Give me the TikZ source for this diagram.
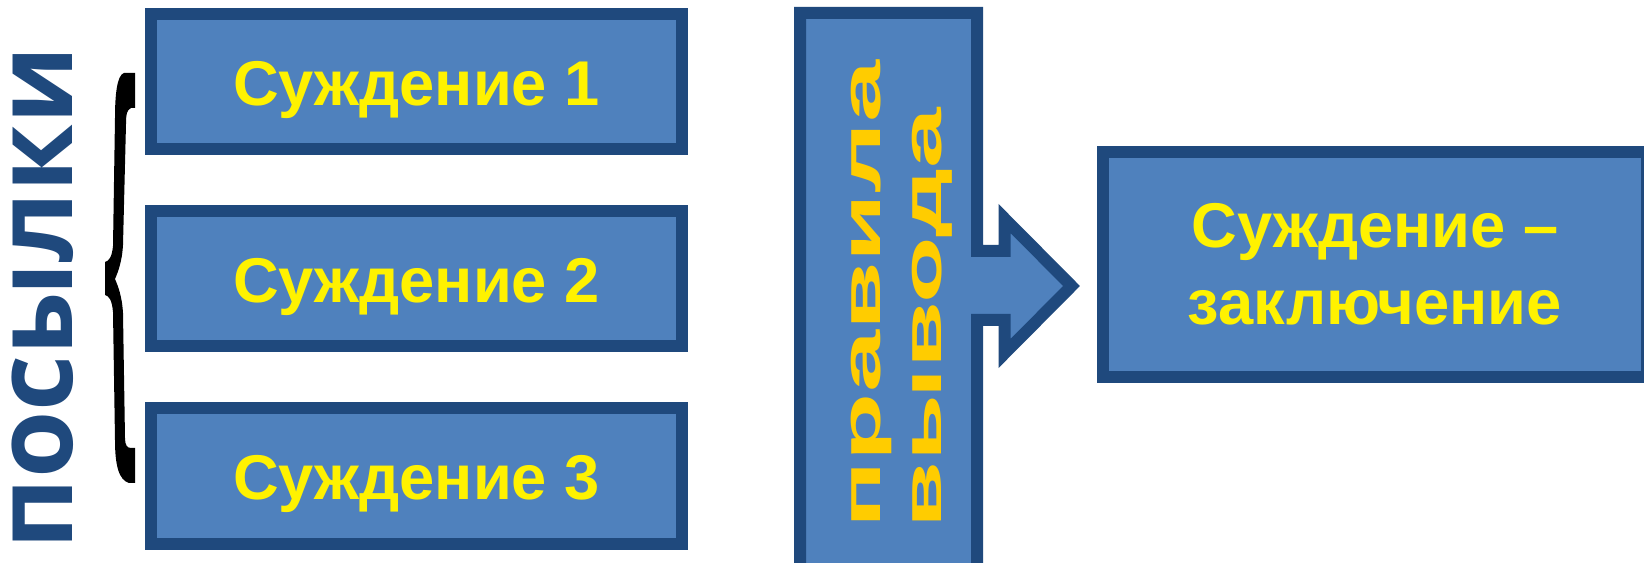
\documentclass[tikz,border=0pt]{standalone}
\usepackage{fontspec}
\setmainfont{Liberation Sans}
\newfontfamily\premisefont{Open Sans}
\usepackage{graphicx}
\definecolor{boxfill}{HTML}{4F81BD}
\definecolor{boxline}{HTML}{1F497D}
\definecolor{rulegold}{HTML}{FFCC00}
\begin{document}
\begin{tikzpicture}[x=0.02cm,y=-0.02cm,
  judgement/.style={draw=boxline,fill=boxfill,line width=0.24cm,minimum width=10.62cm,
    minimum height=2.72cm,inner sep=0pt,text=yellow,font=\fontsize{36}{44}\selectfont\bfseries},
  sidetext/.style={rotate=90,anchor=base west,inner sep=0pt}]
\useasboundingbox[fill=white] (0,0) rectangle (1644,563);
\foreach \i/\y in {1/81.5,2/278.5,3/476}
  \node[judgement,text height=27pt,text depth=0pt] (s\i) at (416.5,\y) {Суждение \i};
\node[judgement,align=center,minimum width=10.88cm,minimum height=4.52cm] (concl) at (1375,264.5) {Суждение –\\заключение};
\coordinate (tip) at (1071.5,286);
\draw[draw=boxline,fill=boxfill,line width=0.24cm] (800,13) -- (977,13) -- (977,251) -- (1004.5,251)
  -- (1004.5,218.5) -- (tip) -- (1004.5,353.5) -- (1004.5,320) -- (977,320) -- (977,580)
  -- (800,580) -- cycle;
\node[sidetext,text=boxline,text height=38pt,text depth=0pt,font=\premisefont\fontsize{62}{62}\selectfont\bfseries] (premises) at (72,550) {посылки};
\node[sidetext,text=rulegold,font=\fontsize{31}{31}\selectfont\bfseries] (rule1) at (880,529) {\scalebox{2.05}[1]{правила}};
\node[sidetext,text=rulegold,font=\fontsize{31}{31}\selectfont\bfseries] (rule2) at (941,529) {\scalebox{2}[1]{вывода}};
\coordinate (btip) at (105,279);
\fill (135,73) -- (135,108) -- (131,108) .. controls (127,110) and (126,114) .. (126,124)
  -- (123,245) .. controls (122,262) and (118,272) .. (115,279)
  .. controls (118,286) and (122,296) .. (123,313)
  -- (125,438) .. controls (125,445) and (127,448) .. (131,448) -- (135,448) -- (135,483) -- (129,483)
  .. controls (119,480) and (115,466) .. (115,440)
  -- (113,312) .. controls (112,300) and (109,296) .. (105,295) -- (btip) -- (105,262)
  .. controls (109,261) and (112,257) .. (113,246)
  -- (115,118) .. controls (115,95) and (117,75) .. (124,73) -- cycle;
\end{tikzpicture}
\end{document}
